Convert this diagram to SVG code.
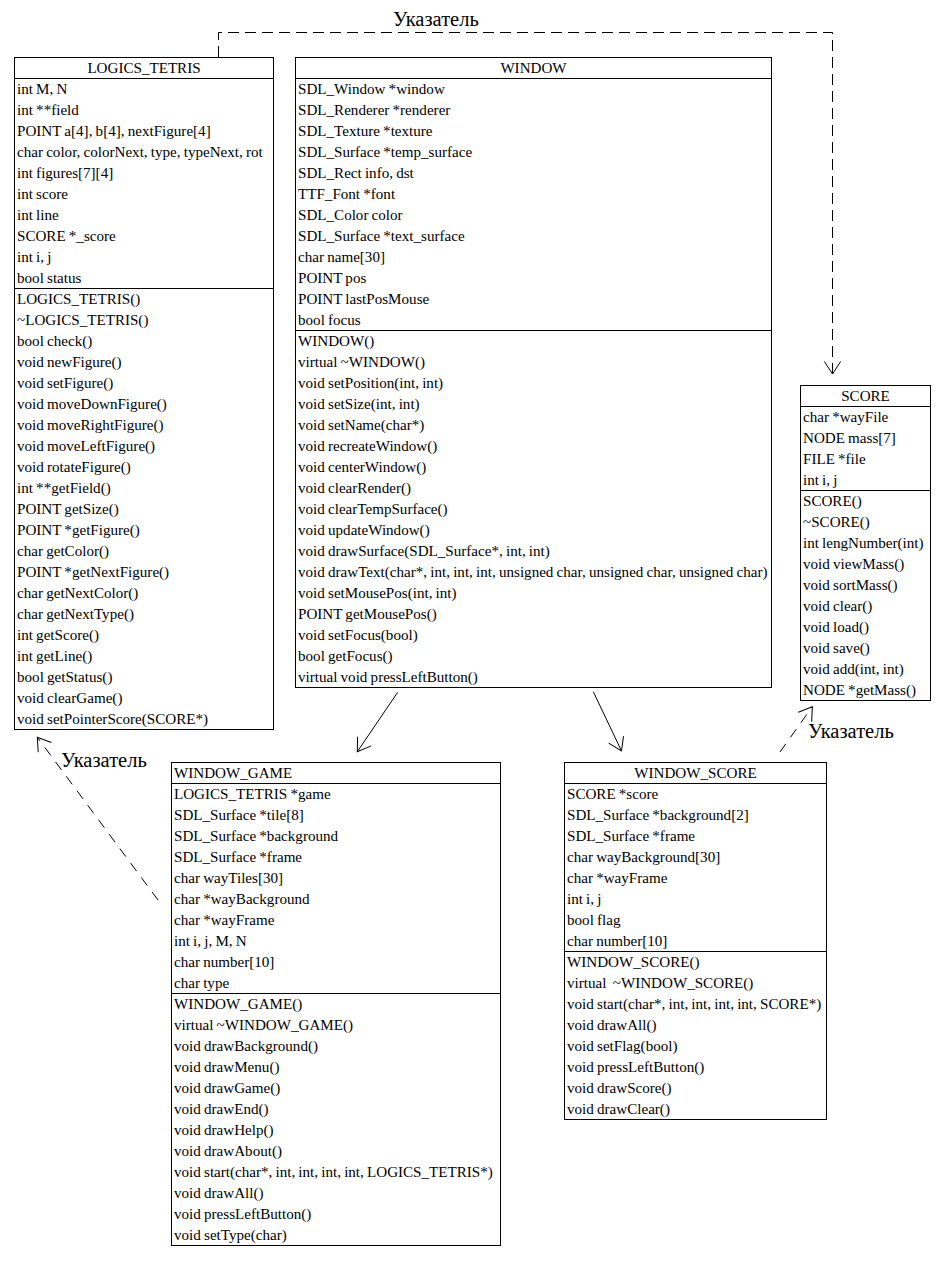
<svg xmlns="http://www.w3.org/2000/svg" width="949" height="1269" viewBox="0 0 949 1269">
  <style>
    .box { fill: #ffffff; stroke: #000000; stroke-width: 1; }
    .sep { stroke: #000000; stroke-width: 1; }
    .t { font-family: "Liberation Serif", "Times New Roman", serif; font-size: 15.1px; word-spacing: -0.6px; fill: #000000; white-space: pre; }
    .c { text-anchor: middle; }
    .lbl { font-family: "Liberation Serif", "Times New Roman", serif; font-size: 20.5px; fill: #000000; }
    .link { fill: none; stroke: #000000; stroke-width: 1; }
    .dash { stroke-dasharray: 11 6; }
    .dash2 { stroke-dasharray: 10 8; }
  </style>
  <defs>
    <marker id="open" markerUnits="userSpaceOnUse" viewBox="-15 -10 17 20" markerWidth="17" markerHeight="20" refX="0" refY="0" orient="auto" overflow="visible">
      <path d="M-12.6,-8.2 L0,0 L-12.6,8.2" fill="none" stroke="#000000" stroke-width="1" stroke-dasharray="none"/>
    </marker>
  </defs>

  <rect width="949" height="1269" fill="#ffffff"/>

  <!-- associations and inheritance -->
  <g id="connectors">
    <path class="link dash" d="M218.5,57 V32.5 H832.5 V374" marker-end="url(#open)"/>
    <path class="link" d="M397.7,692.3 L357.3,751.7" marker-end="url(#open)"/>
    <path class="link" d="M593.3,691.7 L621.5,751" marker-end="url(#open)"/>
    <path class="link dash2" d="M158,900 L37.3,737.3" marker-end="url(#open)"/>
    <path class="link dash2" d="M780,752 L812.3,706.7" marker-end="url(#open)"/>
    <text class="lbl" x="393" y="26">Указатель</text>
    <text class="lbl" x="61" y="767">Указатель</text>
    <text class="lbl" x="808" y="738">Указатель</text>
  </g>

  <g id="logics_tetris">
    <rect class="box" x="14.5" y="57.5" width="259" height="672"/>
    <line class="sep" x1="14.5" y1="78.5" x2="273.5" y2="78.5"/>
    <line class="sep" x1="14.5" y1="288.5" x2="273.5" y2="288.5"/>
    <text class="t c" x="144" y="73">LOGICS_TETRIS</text>
    <text class="t" x="17">
      <tspan x="17" y="94">int M, N</tspan>
      <tspan x="17" y="115">int **field</tspan>
      <tspan x="17" y="136">POINT a[4], b[4], nextFigure[4]</tspan>
      <tspan x="17" y="157">char color, colorNext, type, typeNext, rot</tspan>
      <tspan x="17" y="178">int figures[7][4]</tspan>
      <tspan x="17" y="199">int score</tspan>
      <tspan x="17" y="220">int line</tspan>
      <tspan x="17" y="241">SCORE *_score</tspan>
      <tspan x="17" y="262">int i, j</tspan>
      <tspan x="17" y="283">bool status</tspan>
    </text>
    <text class="t" x="17">
      <tspan x="17" y="304">LOGICS_TETRIS()</tspan>
      <tspan x="17" y="325">~LOGICS_TETRIS()</tspan>
      <tspan x="17" y="346">bool check()</tspan>
      <tspan x="17" y="367">void newFigure()</tspan>
      <tspan x="17" y="388">void setFigure()</tspan>
      <tspan x="17" y="409">void moveDownFigure()</tspan>
      <tspan x="17" y="430">void moveRightFigure()</tspan>
      <tspan x="17" y="451">void moveLeftFigure()</tspan>
      <tspan x="17" y="472">void rotateFigure()</tspan>
      <tspan x="17" y="493">int **getField()</tspan>
      <tspan x="17" y="514">POINT getSize()</tspan>
      <tspan x="17" y="535">POINT *getFigure()</tspan>
      <tspan x="17" y="556">char getColor()</tspan>
      <tspan x="17" y="577">POINT *getNextFigure()</tspan>
      <tspan x="17" y="598">char getNextColor()</tspan>
      <tspan x="17" y="619">char getNextType()</tspan>
      <tspan x="17" y="640">int getScore()</tspan>
      <tspan x="17" y="661">int getLine()</tspan>
      <tspan x="17" y="682">bool getStatus()</tspan>
      <tspan x="17" y="703">void clearGame()</tspan>
      <tspan x="17" y="724">void setPointerScore(SCORE*)</tspan>
    </text>
  </g>

  <g id="window">
    <rect class="box" x="295.5" y="57.5" width="476" height="630"/>
    <line class="sep" x1="295.5" y1="78.5" x2="771.5" y2="78.5"/>
    <line class="sep" x1="295.5" y1="330.5" x2="771.5" y2="330.5"/>
    <text class="t c" x="533.5" y="73">WINDOW</text>
    <text class="t" x="298">
      <tspan x="298" y="94">SDL_Window *window</tspan>
      <tspan x="298" y="115">SDL_Renderer *renderer</tspan>
      <tspan x="298" y="136">SDL_Texture *texture</tspan>
      <tspan x="298" y="157">SDL_Surface *temp_surface</tspan>
      <tspan x="298" y="178">SDL_Rect info, dst</tspan>
      <tspan x="298" y="199">TTF_Font *font</tspan>
      <tspan x="298" y="220">SDL_Color color</tspan>
      <tspan x="298" y="241">SDL_Surface *text_surface</tspan>
      <tspan x="298" y="262">char name[30]</tspan>
      <tspan x="298" y="283">POINT pos</tspan>
      <tspan x="298" y="304">POINT lastPosMouse</tspan>
      <tspan x="298" y="325">bool focus</tspan>
    </text>
    <text class="t" x="298">
      <tspan x="298" y="346">WINDOW()</tspan>
      <tspan x="298" y="367">virtual ~WINDOW()</tspan>
      <tspan x="298" y="388">void setPosition(int, int)</tspan>
      <tspan x="298" y="409">void setSize(int, int)</tspan>
      <tspan x="298" y="430">void setName(char*)</tspan>
      <tspan x="298" y="451">void recreateWindow()</tspan>
      <tspan x="298" y="472">void centerWindow()</tspan>
      <tspan x="298" y="493">void clearRender()</tspan>
      <tspan x="298" y="514">void clearTempSurface()</tspan>
      <tspan x="298" y="535">void updateWindow()</tspan>
      <tspan x="298" y="556">void drawSurface(SDL_Surface*, int, int)</tspan>
      <tspan x="298" y="577">void drawText(char*, int, int, int, unsigned char, unsigned char, unsigned char)</tspan>
      <tspan x="298" y="598">void setMousePos(int, int)</tspan>
      <tspan x="298" y="619">POINT getMousePos()</tspan>
      <tspan x="298" y="640">void setFocus(bool)</tspan>
      <tspan x="298" y="661">bool getFocus()</tspan>
      <tspan x="298" y="682">virtual void pressLeftButton()</tspan>
    </text>
  </g>

  <g id="score">
    <rect class="box" x="800.5" y="385.5" width="130" height="315"/>
    <line class="sep" x1="800.5" y1="406.5" x2="930.5" y2="406.5"/>
    <line class="sep" x1="800.5" y1="490.5" x2="930.5" y2="490.5"/>
    <text class="t c" x="865.5" y="401">SCORE</text>
    <text class="t" x="803">
      <tspan x="803" y="422">char *wayFile</tspan>
      <tspan x="803" y="443">NODE mass[7]</tspan>
      <tspan x="803" y="464">FILE *file</tspan>
      <tspan x="803" y="485">int i, j</tspan>
    </text>
    <text class="t" x="803">
      <tspan x="803" y="506">SCORE()</tspan>
      <tspan x="803" y="527">~SCORE()</tspan>
      <tspan x="803" y="548">int lengNumber(int)</tspan>
      <tspan x="803" y="569">void viewMass()</tspan>
      <tspan x="803" y="590">void sortMass()</tspan>
      <tspan x="803" y="611">void clear()</tspan>
      <tspan x="803" y="632">void load()</tspan>
      <tspan x="803" y="653">void save()</tspan>
      <tspan x="803" y="674">void add(int, int)</tspan>
      <tspan x="803" y="695">NODE *getMass()</tspan>
    </text>
  </g>

  <g id="window_game">
    <rect class="box" x="171.5" y="762.5" width="329" height="483"/>
    <line class="sep" x1="171.5" y1="783.5" x2="500.5" y2="783.5"/>
    <line class="sep" x1="171.5" y1="993.5" x2="500.5" y2="993.5"/>
    <text class="t" x="174" y="778">WINDOW_GAME</text>
    <text class="t" x="174">
      <tspan x="174" y="799">LOGICS_TETRIS *game</tspan>
      <tspan x="174" y="820">SDL_Surface *tile[8]</tspan>
      <tspan x="174" y="841">SDL_Surface *background</tspan>
      <tspan x="174" y="862">SDL_Surface *frame</tspan>
      <tspan x="174" y="883">char wayTiles[30]</tspan>
      <tspan x="174" y="904">char *wayBackground</tspan>
      <tspan x="174" y="925">char *wayFrame</tspan>
      <tspan x="174" y="946">int i, j, M, N</tspan>
      <tspan x="174" y="967">char number[10]</tspan>
      <tspan x="174" y="988">char type</tspan>
    </text>
    <text class="t" x="174">
      <tspan x="174" y="1009">WINDOW_GAME()</tspan>
      <tspan x="174" y="1030">virtual ~WINDOW_GAME()</tspan>
      <tspan x="174" y="1051">void drawBackground()</tspan>
      <tspan x="174" y="1072">void drawMenu()</tspan>
      <tspan x="174" y="1093">void drawGame()</tspan>
      <tspan x="174" y="1114">void drawEnd()</tspan>
      <tspan x="174" y="1135">void drawHelp()</tspan>
      <tspan x="174" y="1156">void drawAbout()</tspan>
      <tspan x="174" y="1177">void start(char*, int, int, int, int, LOGICS_TETRIS*)</tspan>
      <tspan x="174" y="1198">void drawAll()</tspan>
      <tspan x="174" y="1219">void pressLeftButton()</tspan>
      <tspan x="174" y="1240">void setType(char)</tspan>
    </text>
  </g>

  <g id="window_score">
    <rect class="box" x="564.5" y="762.5" width="262" height="357"/>
    <line class="sep" x1="564.5" y1="783.5" x2="826.5" y2="783.5"/>
    <line class="sep" x1="564.5" y1="951.5" x2="826.5" y2="951.5"/>
    <text class="t c" x="695.5" y="778">WINDOW_SCORE</text>
    <text class="t" x="567">
      <tspan x="567" y="799">SCORE *score</tspan>
      <tspan x="567" y="820">SDL_Surface *background[2]</tspan>
      <tspan x="567" y="841">SDL_Surface *frame</tspan>
      <tspan x="567" y="862">char wayBackground[30]</tspan>
      <tspan x="567" y="883">char *wayFrame</tspan>
      <tspan x="567" y="904">int i, j</tspan>
      <tspan x="567" y="925">bool flag</tspan>
      <tspan x="567" y="946">char number[10]</tspan>
    </text>
    <text class="t" x="567">
      <tspan x="567" y="967">WINDOW_SCORE()</tspan>
      <tspan x="567" y="988">virtual  ~WINDOW_SCORE()</tspan>
      <tspan x="567" y="1009">void start(char*, int, int, int, int, SCORE*)</tspan>
      <tspan x="567" y="1030">void drawAll()</tspan>
      <tspan x="567" y="1051">void setFlag(bool)</tspan>
      <tspan x="567" y="1072">void pressLeftButton()</tspan>
      <tspan x="567" y="1093">void drawScore()</tspan>
      <tspan x="567" y="1114">void drawClear()</tspan>
    </text>
  </g>
</svg>
